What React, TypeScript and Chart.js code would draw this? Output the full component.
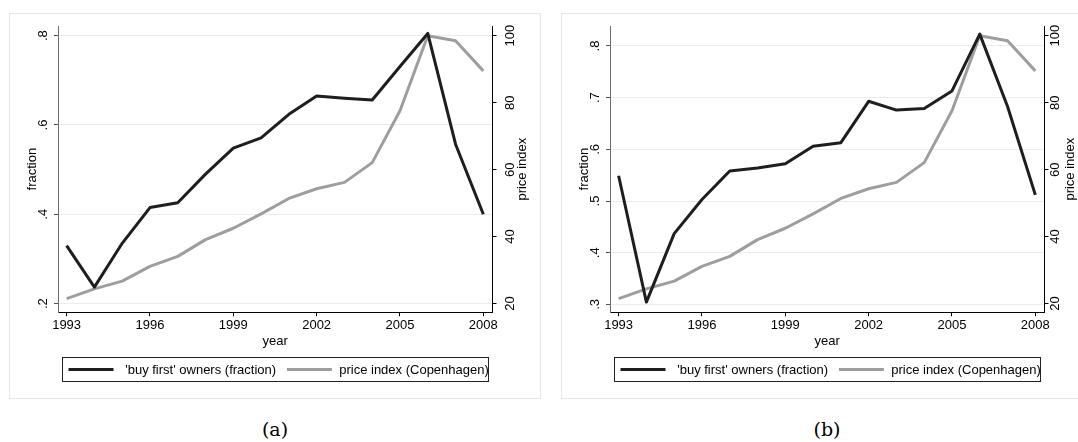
import React, { useEffect, useRef } from "react";
import { Chart, registerables } from "chart.js";

Chart.register(...registerables);

// ---------- data ----------
const years = [1993, 1994, 1995, 1996, 1997, 1998, 1999, 2000, 2001, 2002, 2003, 2004, 2005, 2006, 2007, 2008];
const fractionA = [0.330, 0.237, 0.335, 0.415, 0.426, 0.490, 0.548, 0.571, 0.624, 0.665, 0.660, 0.656, 0.731, 0.805, 0.557, 0.400];
const fractionB = [0.549, 0.3045, 0.437, 0.503, 0.558, 0.564, 0.572, 0.606, 0.613, 0.693, 0.676, 0.679, 0.713, 0.823, 0.683, 0.512];
const priceIndex = [21.5, 24.4, 26.7, 31.1, 34.1, 39.1, 42.5, 46.8, 51.4, 54.3, 56.2, 62.1, 77.6, 100.0, 98.5, 89.5];

const xTicks = [1993, 1996, 1999, 2002, 2005, 2008];
const fractionTicksA = [0.2, 0.4, 0.6, 0.8];
const fractionTicksB = [0.3, 0.4, 0.5, 0.6, 0.7, 0.8];
const priceTicks = [20, 40, 60, 80, 100];

const seriesLabels = ["'buy first' owners (fraction)", "price index (Copenhagen)"];
const xTitle = "year";
const yTitle = "fraction";
const y2Title = "price index";
const panelLabels = ["(a)", "(b)"];

// ---------- style ----------
const FAMILY = '"Liberation Sans", Arial, Helvetica, sans-serif';
const BLACK_LINE = "#1e1e1e";
const GREY_LINE = "#9e9e9e";
const GRID = "#e6eef1";

const fmtFrac = (v: number) => {
  const s = String(Math.round(v * 1000) / 1000);
  return s.replace(/^0\./, ".");
};

function makePlugin(rightLabelOff: number, rightTitleOff: number) {
  return {
    id: "stataDecor",
    afterDraw(chart: any) {
      const { ctx, chartArea: ca, scales } = chart;
      ctx.save();
      ctx.fillStyle = "#000";
      ctx.font = `13px ${FAMILY}`;
      const rot = (text: string, x: number, y: number) => {
        ctx.save();
        ctx.translate(x, y);
        ctx.rotate(-Math.PI / 2);
        ctx.textAlign = "center";
        ctx.textBaseline = "alphabetic";
        ctx.fillText(text, 0, 0);
        ctx.restore();
      };
      const yl = scales.y;
      const yr = scales.y2;
      yl.ticks.forEach((t: any) => rot(fmtFrac(t.value), ca.left - 11, yl.getPixelForValue(t.value)));
      yr.ticks.forEach((t: any) => rot(String(t.value), ca.right + rightLabelOff, yr.getPixelForValue(t.value)));
      const midY = (ca.top + ca.bottom) / 2;
      rot(yTitle, ca.left - 22, midY);
      rot(y2Title, ca.right + rightTitleOff, midY);

      // legend
      const cx = (ca.left + ca.right) / 2;
      const bx = Math.round(cx - 213) + 0.5;
      const by = Math.round(ca.bottom + 44.4) + 0.5;
      ctx.strokeStyle = "#222";
      ctx.lineWidth = 1;
      ctx.strokeRect(bx, by, 426, 24);
      const slots = [
        { lineX: 6, textX: 62.7 },
        { lineX: 224.4, textX: 276.7 },
      ];
      const order = [1, 0]; // black series first, grey second
      order.forEach((dsIndex, i) => {
        const ds = chart.data.datasets[dsIndex];
        const s = slots[i];
        ctx.beginPath();
        ctx.strokeStyle = ds.borderColor;
        ctx.lineWidth = 3;
        ctx.lineCap = "butt";
        ctx.moveTo(bx + s.lineX, by + 12);
        ctx.lineTo(bx + s.lineX + 45, by + 12);
        ctx.stroke();
        ctx.fillStyle = "#000";
        ctx.textAlign = "left";
        ctx.textBaseline = "middle";
        ctx.fillText(ds.label, bx + s.textX, by + 12.5);
      });
      ctx.restore();
    },
  };
}

type PanelProps = {
  left: number;
  fraction: number[];
  fracTicks: number[];
  fracMin: number;
  fracMax: number;
  label: string;
  rightLabelOff: number;
  rightTitleOff: number;
};

const CW = 530;
const CH = 384;

function Panel({ left, fraction, fracTicks, fracMin, fracMax, label, rightLabelOff, rightTitleOff }: PanelProps) {
  const ref = useRef<HTMLCanvasElement | null>(null);
  useEffect(() => {
    if (!ref.current) return;
    const chart = new Chart(ref.current, {
      type: "line",
      data: {
        datasets: [
          {
            label: seriesLabels[1],
            data: years.map((x, i) => ({ x, y: priceIndex[i] })),
            yAxisID: "y2",
            borderColor: GREY_LINE,
            borderWidth: 3,
            borderJoinStyle: "round",
            pointRadius: 0,
            fill: false,
            order: 1,
          },
          {
            label: seriesLabels[0],
            data: years.map((x, i) => ({ x, y: fraction[i] })),
            yAxisID: "y",
            borderColor: BLACK_LINE,
            borderWidth: 3,
            borderJoinStyle: "round",
            pointRadius: 0,
            fill: false,
            order: 0,
          },
        ],
      },
      options: {
        responsive: false,
        animation: false,
        devicePixelRatio: 1,
        layout: { padding: { left: 0, right: 0, top: 12, bottom: 45.7 } },
        plugins: { legend: { display: false }, tooltip: { enabled: false } },
        elements: { line: { tension: 0 }, point: { radius: 0 } },
        scales: {
          x: {
            type: "linear",
            position: "bottom",
            min: 1992.69,
            max: 2008.33,
            afterBuildTicks: (s: any) => {
              s.ticks = xTicks.map((v) => ({ value: v }));
            },
            afterFit: (s: any) => {
              s.height = 40;
            },
            ticks: {
              autoSkip: false,
              maxRotation: 0,
              minRotation: 0,
              padding: 1.5,
              color: "#000",
              font: { family: FAMILY, size: 13 },
              callback: (v: any) => String(v),
            },
            grid: {
              drawOnChartArea: false,
              drawTicks: true,
              tickLength: 4,
              tickColor: "#000",
              tickWidth: 1,
            },
            border: { display: true, color: "#000", width: 1 },
            title: {
              display: true,
              text: xTitle,
              color: "#000",
              font: { family: FAMILY, size: 13 },
              padding: { top: 0, bottom: 3 },
            },
          },
          y: {
            type: "linear",
            position: "left",
            min: fracMin,
            max: fracMax,
            afterBuildTicks: (s: any) => {
              s.ticks = fracTicks.map((v) => ({ value: v }));
            },
            afterFit: (s: any) => {
              s.width = 48;
            },
            ticks: { display: false },
            grid: {
              display: true,
              drawOnChartArea: true,
              color: GRID,
              lineWidth: 1,
              drawTicks: true,
              tickLength: 4,
              tickColor: "#555",
              tickWidth: 1,
            },
            border: { display: true, color: "#6b6b6b", width: 1 },
          },
          y2: {
            type: "linear",
            position: "right",
            min: 17.4,
            max: 102.9,
            afterBuildTicks: (s: any) => {
              s.ticks = priceTicks.map((v) => ({ value: v }));
            },
            afterFit: (s: any) => {
              s.width = 47.5;
            },
            ticks: { display: false },
            grid: {
              display: true,
              drawOnChartArea: false,
              drawTicks: true,
              tickLength: 4,
              tickColor: "#000",
              tickWidth: 1,
            },
            border: { display: true, color: "#000", width: 1 },
          },
        },
      } as any,
      plugins: [makePlugin(rightLabelOff, rightTitleOff)],
    });
    return () => chart.destroy();
  }, []);

  return (
    <>
      <div
        style={{
          position: "absolute",
          left,
          top: 13,
          width: 532,
          height: 386,
          boxSizing: "border-box",
          border: "1px solid #e4e7e9",
          background: "#fff",
        }}
      >
        <canvas
          ref={ref}
          width={CW}
          height={CH}
          style={{ position: "absolute", left: 0, top: 0, width: CW, height: CH }}
        />
      </div>
      <div
        style={{
          position: "absolute",
          left: left + 266 - 50,
          width: 100,
          top: 418,
          lineHeight: "22px",
          textAlign: "center",
          fontFamily: '"DejaVu Serif", "Liberation Serif", serif',
          fontSize: 19,
          color: "#000",
        }}
      >
        {label}
      </div>
    </>
  );
}

export default function App() {
  return (
    <div
      style={{
        position: "fixed",
        left: 0,
        top: 0,
        width: 1078,
        height: 442,
        overflow: "hidden",
        background: "#fff",
      }}
    >
      <Panel
        left={9}
        fraction={fractionA}
        fracTicks={fractionTicksA}
        fracMin={0.1805}
        fracMax={0.8217}
        label={panelLabels[0]}
        rightLabelOff={21}
        rightTitleOff={33}
      />
      <Panel
        left={561}
        fraction={fractionB}
        fracTicks={fractionTicksB}
        fracMin={0.2847}
        fracMax={0.8387}
        label={panelLabels[1]}
        rightLabelOff={14.5}
        rightTitleOff={29.5}
      />
    </div>
  );
}
